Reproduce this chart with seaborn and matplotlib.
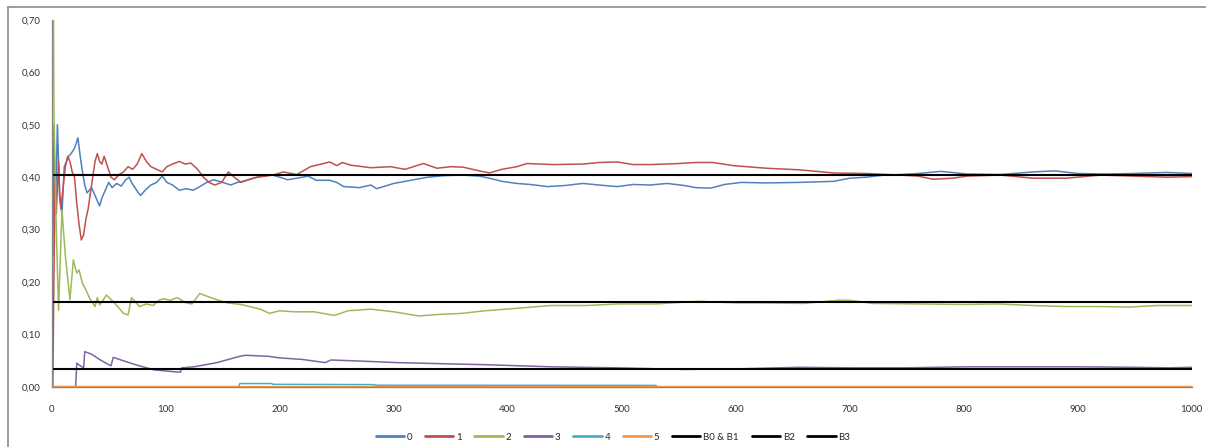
import matplotlib
matplotlib.use("Agg")
import matplotlib.pyplot as plt
from matplotlib.lines import Line2D
from matplotlib.ticker import FuncFormatter, MultipleLocator
import seaborn as sns
import pandas as pd

# ---------------- data ----------------
X0 = [1, 2, 3, 4, 5, 7, 9, 11, 13, 15, 17, 20, 23, 25, 27, 29, 31, 33, 35, 38, 40, 42, 44, 46,
      50, 53, 57, 61, 65, 68, 70, 73, 76, 78, 82, 87, 92, 97, 101, 106, 112, 118, 124, 130, 136,
      142, 150, 157, 163, 170, 177, 185, 192, 200, 207, 215, 225, 232, 244, 250, 256, 270, 280,
      285, 300, 315, 330, 345, 360, 375, 384, 395, 408, 420, 435, 450, 466, 480, 496, 510, 525,
      540, 555, 565, 578, 590, 605, 627, 656, 686, 700, 715, 730, 745, 760, 780, 803, 832, 861,
      880, 900, 925, 949, 978, 1000]
Y0 = [0.25, 0.50, 0.33, 0.40, 0.50, 0.36, 0.33, 0.42, 0.43, 0.44, 0.445, 0.455, 0.475, 0.44,
      0.41, 0.385, 0.37, 0.375, 0.38, 0.365, 0.355, 0.345, 0.36, 0.37, 0.39, 0.38, 0.388, 0.383,
      0.395, 0.40, 0.39, 0.38, 0.37, 0.365, 0.375, 0.385, 0.39, 0.402, 0.39, 0.385, 0.375, 0.378,
      0.375, 0.382, 0.39, 0.395, 0.39, 0.385, 0.39, 0.393, 0.398, 0.402, 0.405, 0.40, 0.395,
      0.398, 0.402, 0.394, 0.394, 0.39, 0.382, 0.38, 0.385, 0.378, 0.388, 0.394, 0.40, 0.403,
      0.404, 0.402, 0.398, 0.392, 0.388, 0.386, 0.382, 0.384, 0.388, 0.385, 0.382, 0.386, 0.385,
      0.388, 0.384, 0.38, 0.379, 0.386, 0.39, 0.389, 0.39, 0.392, 0.398, 0.40, 0.404, 0.405,
      0.407, 0.411, 0.406, 0.405, 0.41, 0.412, 0.407, 0.406, 0.407, 0.409, 0.407]

X1 = [1, 2, 3, 4, 5, 6, 7, 8, 10, 12, 14, 16, 18, 20, 22, 24, 26, 28, 30, 32, 34, 36, 38, 40,
      42, 44, 46, 49, 52, 55, 59, 63, 67, 71, 75, 79, 83, 87, 92, 97, 101, 106, 112, 117, 122,
      128, 133, 138, 143, 149, 155, 160, 166, 172, 180, 188, 196, 203, 215, 227, 244, 250, 255,
      262, 280, 297, 310, 326, 338, 350, 361, 375, 384, 395, 408, 417, 440, 466, 480, 496, 510,
      525, 550, 565, 580, 598, 627, 656, 686, 715, 744, 760, 773, 790, 803, 832, 861, 890, 920,
      949, 978, 1000]
Y1 = [0.0, 0.22, 0.40, 0.33, 0.38, 0.43, 0.37, 0.34, 0.38, 0.42, 0.44, 0.43, 0.41, 0.40, 0.35,
      0.31, 0.28, 0.29, 0.32, 0.34, 0.37, 0.40, 0.43, 0.445, 0.43, 0.425, 0.44, 0.42, 0.40, 0.395,
      0.405, 0.41, 0.42, 0.415, 0.425, 0.445, 0.43, 0.42, 0.415, 0.41, 0.42, 0.425, 0.43, 0.425,
      0.427, 0.415, 0.40, 0.39, 0.385, 0.39, 0.41, 0.40, 0.39, 0.395, 0.40, 0.402, 0.405, 0.41,
      0.405, 0.42, 0.429, 0.422, 0.428, 0.423, 0.418, 0.42, 0.415, 0.426, 0.417, 0.42, 0.419,
      0.412, 0.408, 0.415, 0.42, 0.426, 0.424, 0.425, 0.428, 0.429, 0.424, 0.424, 0.426, 0.428,
      0.428, 0.422, 0.417, 0.414, 0.408, 0.407, 0.404, 0.402, 0.396, 0.398, 0.402, 0.404, 0.398,
      0.398, 0.404, 0.402, 0.40, 0.401]

X2 = [1, 2, 4, 6, 9, 12, 16, 19, 22, 24, 27, 30, 33, 38, 40, 42, 45, 48, 55, 63, 67, 70, 77,
      83, 89, 94, 98, 104, 110, 118, 123, 130, 137, 145, 154, 166, 183, 191, 200, 212, 230, 248,
      260, 280, 300, 322, 340, 360, 380, 410, 438, 470, 497, 530, 567, 600, 620, 660, 690, 700,
      720, 760, 800, 830, 860, 890, 920, 945, 970, 1000]
Y2 = [1.0, 0.52, 0.30, 0.146, 0.337, 0.25, 0.166, 0.242, 0.217, 0.223, 0.197, 0.185, 0.17,
      0.153, 0.17, 0.156, 0.165, 0.175, 0.16, 0.14, 0.137, 0.17, 0.153, 0.158, 0.155, 0.165,
      0.168, 0.165, 0.17, 0.16, 0.158, 0.178, 0.172, 0.166, 0.16, 0.157, 0.148, 0.14, 0.145,
      0.143, 0.143, 0.136, 0.145, 0.148, 0.143, 0.135, 0.138, 0.14, 0.145, 0.15, 0.155, 0.155,
      0.158, 0.158, 0.163, 0.16, 0.16, 0.159, 0.165, 0.165, 0.159, 0.158, 0.157, 0.158, 0.155,
      0.153, 0.153, 0.152, 0.155, 0.155]

X3 = [1, 21, 22, 25, 28, 29, 35, 42, 50, 52, 54, 65, 75, 90, 100, 110, 113, 114, 125, 135,
      145, 155, 165, 170, 190, 200, 220, 240, 245, 270, 303, 340, 380, 438, 496, 555, 600, 656,
      700, 750, 803, 850, 900, 950, 980, 1000]
Y3 = [0.0, 0.0, 0.045, 0.04, 0.036, 0.067, 0.062, 0.052, 0.042, 0.040, 0.056, 0.048, 0.041,
      0.032, 0.030, 0.028, 0.028, 0.036, 0.038, 0.042, 0.046, 0.052, 0.058, 0.060, 0.058, 0.055,
      0.052, 0.046, 0.051, 0.049, 0.046, 0.044, 0.042, 0.038, 0.036, 0.033, 0.034, 0.037, 0.036,
      0.036, 0.038, 0.038, 0.038, 0.037, 0.036, 0.037]

X4 = [1, 164, 165, 193, 194, 283, 284, 530, 531, 1000]
Y4 = [0.0, 0.0, 0.006, 0.006, 0.0045, 0.004, 0.0028, 0.0025, 0.0, 0.0]

X5 = [1, 1000]
Y5 = [0.0, 0.0]

B_X = [0, 1000]
B01 = 0.405
B2 = 0.161
B3 = 0.0335

SERIES = ["0", "1", "2", "3", "4", "5"]
REF_LABELS = ["B0 & B1", "B2", "B3"]
COLORS = ["#4F81BD", "#C0504D", "#9BBB59", "#8064A2", "#4BACC6", "#F79646"]

X_TICKS = [0, 100, 200, 300, 400, 500, 600, 700, 800, 900, 1000]

# ---------------- figure ----------------
sns.set_theme(style="white")
plt.rcParams["font.family"] = ["Lato", "DejaVu Sans"]

W, H = 1206, 447
fig = plt.figure(figsize=(W / 100, H / 100), dpi=100)
fig.patch.set_facecolor("white")
left, right, top, bottom = 51.7, 1191.7, 20.0, 386.7
ax = fig.add_axes([left / W, 1 - bottom / H, (right - left) / W, (bottom - top) / H])

xs = [X0, X1, X2, X3, X4, X5]
ys = [Y0, Y1, Y2, Y3, Y4, Y5]
handles = []
for name, x, y, c in zip(SERIES, xs, ys, COLORS):
    df = pd.DataFrame({"x": x, "y": y})
    sns.lineplot(data=df, x="x", y="y", color=c, linewidth=1.1, estimator=None,
                 sort=False, ax=ax, legend=False)
    if name == "5":
        ax.lines[-1].set_clip_on(False)
        ax.lines[-1].set_linewidth(1.6)
    handles.append(Line2D([], [], color=c, linewidth=2.0))

for lab, val in zip(REF_LABELS, [B01, B2, B3]):
    df = pd.DataFrame({"x": B_X, "y": [val, val]})
    sns.lineplot(data=df, x="x", y="y", color="black", linewidth=1.5, estimator=None,
                 ax=ax, legend=False)
    handles.append(Line2D([], [], color="black", linewidth=2.0))

ax.set_xlim(0, 1000)
ax.set_ylim(0, 0.70)
ax.set_xticks(X_TICKS)
ax.yaxis.set_major_locator(MultipleLocator(0.1))
ax.yaxis.set_major_formatter(FuncFormatter(lambda v, _: f"{v:.2f}".replace(".", ",")))
ax.set_xlabel("")
ax.set_ylabel("")
for s in ["top", "right"]:
    ax.spines[s].set_visible(False)
for s in ["left", "bottom"]:
    ax.spines[s].set_color("#868686")
    ax.spines[s].set_linewidth(0.9)
ax.tick_params(axis="both", direction="out", length=4, width=0.8, color="#868686",
               labelsize=7, labelcolor="#333333", pad=4)
ax.tick_params(axis="x", pad=9)
ax.grid(False)

fig.legend(handles, SERIES + REF_LABELS, loc="center",
           bbox_to_anchor=(613 / W, 1 - 437 / H), ncol=9, frameon=False, fontsize=7,
           handlelength=2.9, handletextpad=0.3, columnspacing=1.3)

# outer chart-area border (top and left visible in reference)
fig.add_artist(Line2D([8 / W, 1.0], [1 - 7 / H, 1 - 7 / H], color="#8c8c8c",
                      linewidth=1.2, transform=fig.transFigure))
fig.add_artist(Line2D([8 / W, 8 / W], [0.0, 1 - 7 / H], color="#8c8c8c",
                      linewidth=1.2, transform=fig.transFigure))

fig.savefig("out.png", dpi=100, facecolor="white")
